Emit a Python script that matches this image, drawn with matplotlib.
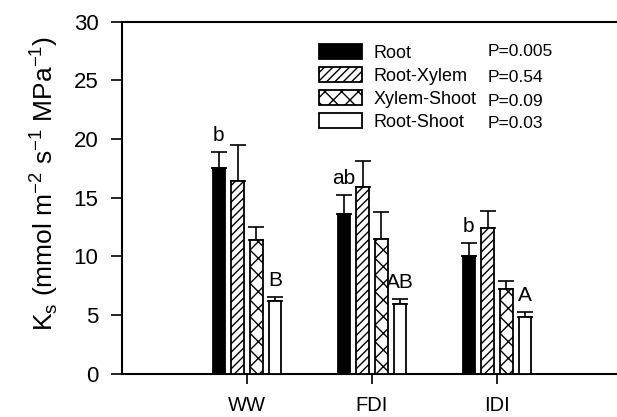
import numpy as np
import matplotlib
matplotlib.use("Agg")
import matplotlib.pyplot as plt

plt.rcParams['font.family'] = ['Liberation Sans', 'DejaVu Sans']
plt.rcParams['hatch.linewidth'] = 1.0

# data
groups = ['WW', 'FDI', 'IDI']
series = ['Root', 'Root-Xylem', 'Xylem-Shoot', 'Root-Shoot']
pvals = ['P=0.005', 'P=0.54', 'P=0.09', 'P=0.03']
means = {
    'Root':        [17.5, 13.6, 10.0],
    'Root-Xylem':  [16.4, 15.9, 12.4],
    'Xylem-Shoot': [11.4, 11.5, 7.2],
    'Root-Shoot':  [6.2, 5.9, 4.8],
}
errs = {
    'Root':        [1.4, 1.65, 1.1],
    'Root-Xylem':  [3.1, 2.2, 1.45],
    'Xylem-Shoot': [1.1, 2.25, 0.7],
    'Root-Shoot':  [0.35, 0.45, 0.4],
}
root_letters = ['b', 'ab', 'b']
rs_letters = ['B', 'AB', 'A']

# style
faces = ['black', 'white', 'white', 'white']
hatches = [None, '////', 'xx', None]

fig = plt.figure(figsize=(6.17, 4.17), dpi=100)
ax = fig.add_axes([122/617, 1 - 373.5/417, 500/617, 352/417])

x = np.arange(1, len(groups) + 1)
step = 0.15
width = 0.1
for i, s in enumerate(series):
    xs = x + (i - 1.5) * step
    ax.bar(xs, means[s], width, color=faces[i], edgecolor='black',
           hatch=hatches[i], linewidth=1.3, label=s, zorder=3)
    ax.errorbar(xs, means[s], yerr=[np.zeros(3), errs[s]], fmt='none',
                ecolor='black', elinewidth=1.2, capsize=5.5, capthick=1.2,
                zorder=2)

# significance letters
for j in range(3):
    xr = x[j] - 1.5 * step
    ax.text(xr, means['Root'][j] + errs['Root'][j] + 0.6, root_letters[j],
            ha='center', va='bottom', fontsize=15)
    xs = x[j] + 1.5 * step
    ax.text(xs, means['Root-Shoot'][j] + errs['Root-Shoot'][j] + 0.6, rs_letters[j],
            ha='center', va='bottom', fontsize=15)

ax.set_xlim(0, 4)
ax.set_ylim(0, 30)
ax.set_yticks(np.arange(0, 31, 5))
ax.set_xticks(x)
ax.set_xticklabels(groups)
ax.tick_params(axis='y', direction='out', length=8, width=1.2, labelsize=16, pad=9)
ax.tick_params(axis='x', direction='out', length=7, width=1.2, labelsize=14.5, pad=9)
for sp in ax.spines.values():
    sp.set_linewidth(1.5)

ax.set_ylabel('K$_\\mathregular{s}$ (mmol m$^\\mathregular{-2}$ s$^\\mathregular{-1}$ MPa$^\\mathregular{-1}$)',
              fontsize=19)
ax.yaxis.set_label_coords(-0.125, 0.54)

leg = ax.legend(loc='upper left', bbox_to_anchor=(319/617, 1 - 44/417),
                bbox_transform=fig.transFigure, frameon=False, fontsize=13,
                handlelength=2.4, handleheight=0.9, handletextpad=0.6,
                labelspacing=0.3, borderpad=0, borderaxespad=0)

py = [51, 77, 101, 124]
for p, yy in zip(pvals, py):
    fig.text(488/617, 1 - yy/417, p, fontsize=12.5, va='center', ha='left')

fig.savefig('out.png', dpi=100)
